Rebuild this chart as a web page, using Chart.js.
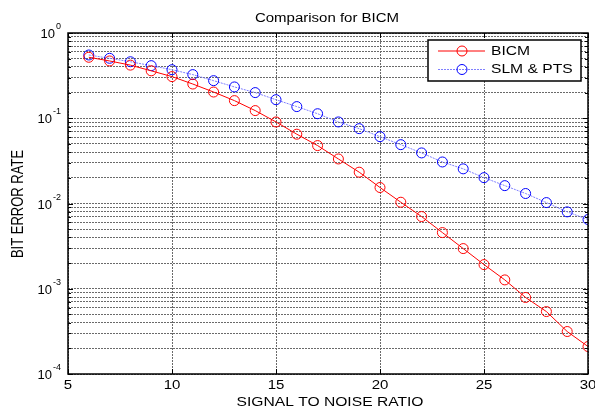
<!DOCTYPE html>
<html>
<head>
<meta charset="utf-8">
<script src="https://cdn.jsdelivr.net/npm/chart.js@4/dist/chart.umd.min.js"></script>
<style>
html,body{margin:0;padding:0;background:#fff;}
#wrap{width:595px;height:410px;position:relative;}
</style>
</head>
<body>
<div id="wrap"><canvas id="c" width="595" height="410"></canvas></div>
<script>
const snr = [6,7,8,9,10,11,12,13,14,15,16,17,18,19,20,21,22,23,24,25,26,27,28,29,30];
const bicm = [0.519,0.47,0.42,0.36,0.308,0.252,0.203,0.161,0.123,0.0905,0.065,0.0478,0.0333,0.0233,0.0154,0.01035,0.00703,0.00456,0.00296,0.00192,0.00127,0.00079,0.00054,0.000315,0.00021];
const slmPts = [0.552,0.505,0.46,0.414,0.371,0.325,0.276,0.233,0.2,0.165,0.137,0.113,0.0905,0.0755,0.0608,0.049,0.0392,0.0307,0.0255,0.0201,0.0162,0.0131,0.01025,0.00798,0.00649];
const xTicks = [5,10,15,20,25,30];
const yDecades = [-4,-3,-2,-1,0];
const seriesNames = ['BICM','SLM & PTS'];
const titleText = 'Comparison for BICM';
const xTitle = 'SIGNAL TO NOISE RATIO';
const yTitle = 'BIT ERROR RATE';

const FONT = '"Liberation Sans", Arial, sans-serif';
const SX = 1.25; // horizontal text stretch seen in the reference

function stretchedText(ctx, text, x, y, size, align) {
  ctx.save();
  ctx.font = size + 'px ' + FONT;
  const w = ctx.measureText(text).width * SX;
  let left = x;
  if (align === 'center') left = x - w / 2;
  else if (align === 'right') left = x - w;
  ctx.translate(left, y);
  ctx.scale(SX, 1);
  ctx.textAlign = 'left';
  ctx.fillText(text, 0, 0);
  ctx.restore();
}

const decorPlugin = {
  id: 'decor',
  afterDraw(chart) {
    const ctx = chart.ctx;
    const a = chart.chartArea;
    const ys = chart.scales.y, xs = chart.scales.x;
    ctx.save();
    // frame
    ctx.strokeStyle = '#000';
    ctx.lineWidth = 1.5;
    ctx.strokeRect(a.left, a.top, a.right - a.left, a.bottom - a.top);
    ctx.lineWidth = 1;
    ctx.beginPath();
    yDecades.forEach(d => {
      for (let m = 1; m <= 9; m++) {
        const v = m * Math.pow(10, d);
        if (v > 1.0000001 || v < 1e-4) continue;
        const py = Math.round(ys.getPixelForValue(v)) + 0.5;
        const len = m === 1 ? 5 : 3;
        ctx.moveTo(a.left, py); ctx.lineTo(a.left + len, py);
        ctx.moveTo(a.right, py); ctx.lineTo(a.right - len, py);
      }
    });
    xTicks.forEach(t => {
      const px = Math.round(xs.getPixelForValue(t)) + 0.5;
      ctx.moveTo(px, a.bottom); ctx.lineTo(px, a.bottom - 5);
      ctx.moveTo(px, a.top); ctx.lineTo(px, a.top + 5);
    });
    ctx.stroke();
    ctx.fillStyle = '#000';
    ctx.textBaseline = 'middle';
    // x tick labels
    xTicks.forEach(t => {
      stretchedText(ctx, String(t), xs.getPixelForValue(t), a.bottom + 12, 12, 'center');
    });
    // y tick labels with superscripts
    yDecades.forEach(d => {
      const py = ys.getPixelForValue(Math.pow(10, d));
      const exp = String(d);
      ctx.textBaseline = 'alphabetic';
      ctx.font = '9px ' + FONT;
      const ew = ctx.measureText(exp).width;
      ctx.font = '13px ' + FONT;
      const bw = ctx.measureText('10').width;
      const right = a.left - 7;
      ctx.textAlign = 'left';
      ctx.fillText('10', right - ew - bw - 1, py + 5);
      ctx.font = '9px ' + FONT;
      ctx.fillText(exp, right - ew, py - 4);
    });
    ctx.textBaseline = 'middle';
    // titles
    stretchedText(ctx, titleText, 327, 19, 12, 'center');
    stretchedText(ctx, xTitle, 330, 403, 12.5, 'center');
    ctx.save();
    ctx.translate(18.5, 204);
    ctx.rotate(-Math.PI / 2);
    ctx.scale(1, 1.2);
    ctx.font = '13px ' + FONT;
    ctx.textAlign = 'center';
    ctx.fillText(yTitle, 0, 0);
    ctx.restore();
    // legend
    const lx = 428, ly = 40, lw = 153, lh = 41;
    ctx.fillStyle = '#fff';
    ctx.fillRect(lx, ly, lw, lh);
    ctx.strokeStyle = '#000';
    ctx.lineWidth = 1.5;
    ctx.strokeRect(lx, ly, lw, lh);
    chart.data.datasets.forEach((ds, i) => {
      const ry = ly + 11 + i * 18.5;
      ctx.strokeStyle = ds.borderColor;
      ctx.lineWidth = 1;
      ctx.setLineDash(ds.borderDash || []);
      ctx.beginPath();
      ctx.moveTo(438, ry); ctx.lineTo(485, ry);
      ctx.stroke();
      ctx.setLineDash([]);
      ctx.strokeStyle = ds.pointBorderColor;
      ctx.beginPath();
      ctx.arc(462, ry, 5, 0, Math.PI * 2);
      ctx.stroke();
      ctx.fillStyle = '#000';
      ctx.textBaseline = 'middle';
      stretchedText(ctx, ds.label, 491, ry + 0.5, 12.5, 'left');
    });
    ctx.restore();
  }
};

new Chart(document.getElementById('c'), {
  type: 'line',
  data: {
    datasets: [
      {
        label: seriesNames[0],
        data: snr.map((x, i) => ({x: x, y: bicm[i]})),
        borderColor: '#ff0000',
        borderWidth: 1,
        pointBorderColor: '#ff0000',
        pointBackgroundColor: 'rgba(0,0,0,0)',
        pointRadius: 5,
        pointBorderWidth: 1,
        fill: false,
        tension: 0
      },
      {
        label: seriesNames[1],
        data: snr.map((x, i) => ({x: x, y: slmPts[i]})),
        borderColor: '#7f7fff',
        borderDash: [2, 1],
        borderWidth: 1,
        pointBorderColor: '#0000ff',
        pointBackgroundColor: 'rgba(0,0,0,0)',
        pointRadius: 5,
        pointBorderWidth: 1,
        fill: false,
        tension: 0
      }
    ]
  },
  plugins: [decorPlugin],
  options: {
    responsive: false,
    animation: false,
    devicePixelRatio: 1,
    layout: {padding: {left: 0, right: 7, top: 33, bottom: 0}},
    plugins: {legend: {display: false}, title: {display: false}, tooltip: {enabled: false}},
    scales: {
      x: {
        type: 'linear', min: 5, max: 30,
        afterBuildTicks(s) { s.ticks = xTicks.map(v => ({value: v})); },
        afterFit(s) { s.height = 36; },
        grid: {color: '#6a6a6a', lineWidth: 1, drawTicks: false},
        border: {display: false, dash: [2, 1]},
        ticks: {display: false}
      },
      y: {
        type: 'logarithmic', min: 1e-4, max: 1,
        afterBuildTicks(s) {
          const t = [];
          yDecades.forEach(d => { for (let m = 1; m <= 9; m++) { const v = m * Math.pow(10, d); if (v <= 1.0000001) t.push({value: v}); } });
          s.ticks = t;
        },
        afterFit(s) { s.width = 68; },
        grid: {color: '#6a6a6a', lineWidth: 1, drawTicks: false},
        border: {display: false, dash: [2, 1]},
        ticks: {display: false}
      }
    }
  }
});
</script>
</body>
</html>
